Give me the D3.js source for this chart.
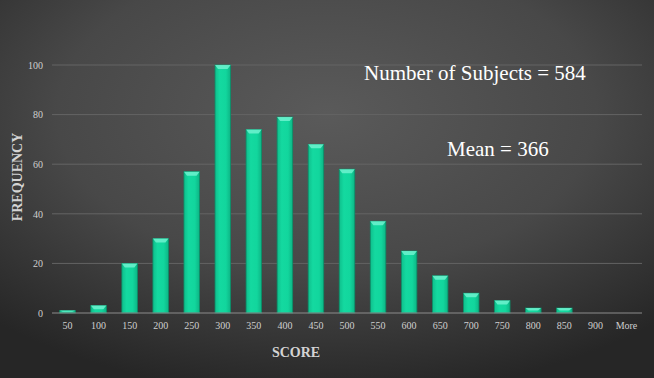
<!DOCTYPE html>
<html>
<head>
<meta charset="utf-8">
<script src="https://cdn.jsdelivr.net/npm/d3@7"></script>
<style>
  body { margin: 0; background: #333; }
  svg { display: block; font-family: "Liberation Serif", "Times New Roman", serif; }
</style>
</head>
<body>
<div id="chart"></div>
<script>
const categories = ["50", "100", "150", "200", "250", "300", "350", "400", "450", "500",
  "550", "600", "650", "700", "750", "800", "850", "900", "More"];
const frequency = [1, 3, 20, 30, 57, 100, 74, 79, 68, 58, 37, 25, 15, 8, 5, 2, 2, 0, 0];
const yTicks = [0, 20, 40, 60, 80, 100];
const notes = ["Number of Subjects = 584", "Mean = 366"];

const W = 654, H = 378;
const margin = { top: 65, right: 12, bottom: 65, left: 52 };

const svg = d3.select("#chart")
  .append("svg")
  .attr("width", W)
  .attr("height", H);

const defs = svg.append("defs");

// dark radial backdrop
const bg = defs.append("radialGradient")
  .attr("id", "bg")
  .attr("cx", 0.5).attr("cy", 0.3).attr("r", 0.75);
bg.append("stop").attr("offset", "0%").attr("stop-color", "#5a5a5a");
bg.append("stop").attr("offset", "55%").attr("stop-color", "#484848");
bg.append("stop").attr("offset", "100%").attr("stop-color", "#262626");

const barGrad = defs.append("linearGradient")
  .attr("id", "bar")
  .attr("x1", 0).attr("x2", 1).attr("y1", 0).attr("y2", 0);
barGrad.append("stop").attr("offset", "0%").attr("stop-color", "#0fbf8c");
barGrad.append("stop").attr("offset", "30%").attr("stop-color", "#14d9a0");
barGrad.append("stop").attr("offset", "70%").attr("stop-color", "#12d69d");
barGrad.append("stop").attr("offset", "100%").attr("stop-color", "#0db585");

svg.append("rect")
  .attr("width", W).attr("height", H)
  .attr("fill", "url(#bg)");

const x = d3.scaleBand()
  .domain(categories)
  .range([margin.left, W - margin.right])
  .paddingInner(0.5)
  .paddingOuter(0.25);

const y = d3.scaleLinear()
  .domain([0, 100])
  .range([H - margin.bottom, margin.top]);

// gridlines
svg.append("g")
  .selectAll("line")
  .data(yTicks.filter(d => d > 0))
  .join("line")
  .attr("x1", margin.left)
  .attr("x2", W - margin.right)
  .attr("y1", d => y(d))
  .attr("y2", d => y(d))
  .attr("stroke", "#646464")
  .attr("stroke-width", 1);

// y axis labels
const yAxis = d3.axisLeft(y).tickValues(yTicks).tickSize(0).tickPadding(9);
svg.append("g")
  .attr("transform", `translate(${margin.left},0)`)
  .call(yAxis)
  .call(g => g.select(".domain").remove())
  .call(g => g.attr("font-family", null))
  .selectAll("text")
  .attr("fill", "#cfcfcf")
  .attr("font-size", 10);

// bars
const bars = svg.append("g")
  .selectAll("g")
  .data(categories.map((c, i) => ({ c, v: frequency[i] })).filter(d => d.v > 0))
  .join("g");

bars.append("rect")
  .attr("x", d => x(d.c))
  .attr("y", d => y(d.v))
  .attr("width", x.bandwidth())
  .attr("height", d => y(0) - y(d.v))
  .attr("fill", "url(#bar)")
  .attr("stroke", "#0a8f69")
  .attr("stroke-width", 0.8);

// bevel cap on top
bars.append("path")
  .attr("d", d => {
    const x0 = x(d.c), x1 = x0 + x.bandwidth(), y0 = y(d.v);
    const cap = Math.min(4, (y(0) - y0) / 2);
    return `M${x0},${y0}L${x1},${y0}L${x1 - 3},${y0 + cap}L${x0 + 3},${y0 + cap}Z`;
  })
  .attr("fill", "#6ff2cf")
  .attr("opacity", 0.85);

// x axis line
svg.append("line")
  .attr("x1", margin.left)
  .attr("x2", W - margin.right)
  .attr("y1", y(0))
  .attr("y2", y(0))
  .attr("stroke", "#8c8c8c")
  .attr("stroke-width", 1.2);

const xAxis = d3.axisBottom(x).tickSize(0).tickPadding(9);
svg.append("g")
  .attr("transform", `translate(0,${y(0)})`)
  .call(xAxis)
  .call(g => g.select(".domain").remove())
  .call(g => g.attr("font-family", null))
  .selectAll("text")
  .attr("fill", "#cfcfcf")
  .attr("font-size", 10);

// axis titles
svg.append("text")
  .attr("x", 296)
  .attr("y", 357)
  .attr("text-anchor", "middle")
  .attr("fill", "#d4d4d4")
  .attr("font-size", 14)
  .attr("font-weight", "bold")
  .text("SCORE");

svg.append("text")
  .attr("transform", "translate(22,177) rotate(-90)")
  .attr("text-anchor", "middle")
  .attr("fill", "#d4d4d4")
  .attr("font-size", 14)
  .attr("font-weight", "bold")
  .text("FREQUENCY");

// annotations
svg.append("text")
  .attr("x", 364)
  .attr("y", 80)
  .attr("fill", "#ffffff")
  .attr("font-size", 21)
  .text(notes[0]);

svg.append("text")
  .attr("x", 447)
  .attr("y", 156)
  .attr("fill", "#ffffff")
  .attr("font-size", 21)
  .text(notes[1]);
</script>
</body>
</html>
